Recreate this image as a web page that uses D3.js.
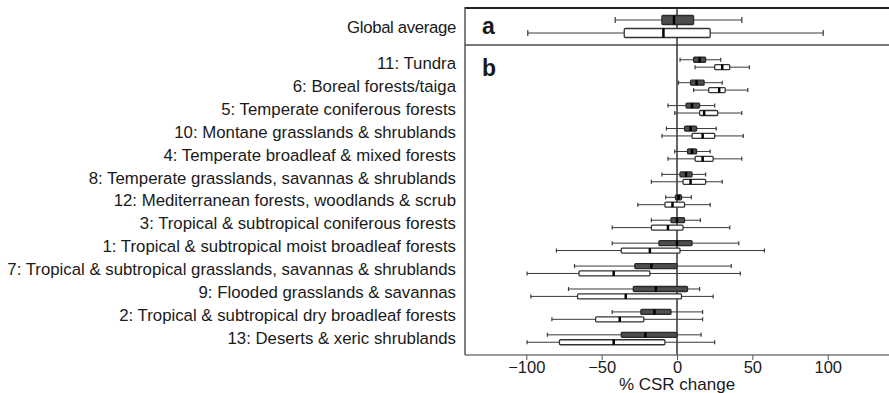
<!DOCTYPE html>
<html>
<head>
<meta charset="utf-8">
<script src="https://d3js.org/d3.v7.min.js"></script>
<style>
  body { margin: 0; background: #fff; overflow: hidden; }
  svg { display: block; }
  text { font-family: "Liberation Sans", Arial, sans-serif; fill: #1a1a1a; }
</style>
</head>
<body>
<script>
// biome names, top to bottom in panel b
var biomes = [
  "11: Tundra",
  "6: Boreal forests/taiga",
  "5: Temperate coniferous forests",
  "10: Montane grasslands & shrublands",
  "4: Temperate broadleaf & mixed forests",
  "8: Temperate grasslands, savannas & shrublands",
  "12: Mediterranean forests, woodlands & scrub",
  "3: Tropical & subtropical coniferous forests",
  "1: Tropical & subtropical moist broadleaf forests",
  "7: Tropical & subtropical grasslands, savannas & shrublands",
  "9: Flooded grasslands & savannas",
  "2: Tropical & subtropical dry broadleaf forests",
  "13: Deserts & xeric shrublands"
];

// [whisker low, q1, median, q3, whisker high] in % CSR change
var darkStats = [
  [2, 11, 15, 19, 29],
  [1, 9, 13, 18, 30],
  [-6, 6, 10, 15, 25],
  [-7, 5, 9, 13, 26],
  [-1.5, 7, 10, 13, 22],
  [-10, 2, 6, 10, 19],
  [-7.5, -1, 1, 3, 9.5],
  [-17, -4, 0, 5, 15.5],
  [-43, -12, 0, 10, 41],
  [-68, -28, -17, 0, 36],
  [-72, -29, -14, 7, 15],
  [-43, -24, -15, -4, 17],
  [-86, -37, -21, 0, 16]
];
var lightStats = [
  [12, 25, 30, 35, 48],
  [11, 21, 28, 32, 47],
  [-1.5, 15, 18, 27, 43],
  [-10, 10, 17, 25, 44],
  [-6, 12, 17, 24, 43],
  [-17, 4, 9, 19, 30],
  [-26, -8, -3, 5, 22],
  [-43, -17, -6, 4, 35],
  [-80, -37, -18, 2, 58],
  [-99.5, -65, -42, -18, 42],
  [-97, -66, -34, 3, 24],
  [-83, -54, -38, -22, 17],
  [-99.5, -78, -42, -8, 25]
];

var globalLabel = "Global average";
var globalDark = [-41, -10, -2, 11, 43];
var globalLight = [-99, -35, -9, 22, 97];

var xTicks = [-100, -50, 0, 50, 100];

var W = 889, H = 393;
// frame edges (don't call these top/left: window.top is read-only)
var frameL = 465, frameR = 889, frameT = 8, frameSplit = 45, frameB = 355;
var labelSize = "16.8px";

var svg = d3.select("body").append("svg")
  .attr("width", W)
  .attr("height", H);

var x = d3.scaleLinear().domain([-140, 140]).range([466, 888]);
var y = d3.scaleBand().domain(biomes).range([52, 350]);
var yA = d3.scaleBand().domain([globalLabel]).range([frameT, frameSplit]);

// frame
svg.append("line").attr("x1", frameL).attr("x2", frameR).attr("y1", frameT).attr("y2", frameT)
  .style("stroke", "#222").style("stroke-width", 2);
svg.append("line").attr("x1", frameL).attr("x2", frameR).attr("y1", frameSplit).attr("y2", frameSplit)
  .style("stroke", "#777").style("stroke-width", 2);
svg.append("line").attr("x1", frameL).attr("x2", frameL).attr("y1", frameT - 1).attr("y2", frameB)
  .style("stroke", "#555").style("stroke-width", 1.5);

// zero line
svg.append("line").attr("x1", x(0)).attr("x2", x(0)).attr("y1", frameT).attr("y2", frameB)
  .style("stroke", "#333").style("stroke-width", 1.5);

// x axis
var xAxis = svg.append("g")
  .attr("transform", "translate(0," + frameB + ")")
  .call(d3.axisBottom(x).tickValues(xTicks).tickSize(5).tickSizeOuter(0).tickPadding(1));
xAxis.select(".domain").attr("d", "M" + frameL + ",0H" + frameR).style("stroke", "#777").style("stroke-width", 1.5);
xAxis.selectAll(".tick line").style("stroke", "#555");
xAxis.selectAll(".tick text").style("font-size", "16.5px").style("fill", "#1a1a1a")
  .style("font-family", "'Liberation Sans', Arial, sans-serif");

svg.append("text")
  .attr("x", x(0))
  .attr("y", 390)
  .attr("text-anchor", "middle")
  .style("font-size", "17px")
  .text("% CSR change");

// panel letters
svg.append("text").attr("x", 482).attr("y", 34).style("font-size", "23px").style("font-weight", "bold").text("a");
svg.append("text").attr("x", 482).attr("y", 76).style("font-size", "23px").style("font-weight", "bold").text("b");

// row labels
svg.append("text")
  .attr("x", 456)
  .attr("y", yA(globalLabel) + yA.bandwidth() / 2 + 2)
  .attr("text-anchor", "end")
  .attr("dominant-baseline", "middle")
  .style("font-size", labelSize)
  .style("letter-spacing", "-0.35px")
  .text(globalLabel);

svg.selectAll(".biome")
  .data(biomes)
  .enter()
  .append("text")
  .attr("class", "biome")
  .attr("x", 456)
  .attr("y", function(d) { return y(d) + y.bandwidth() / 2 + 1; })
  .attr("text-anchor", "end")
  .attr("dominant-baseline", "middle")
  .style("font-size", labelSize)
  .text(function(d) { return d; });

function drawBox(s, cy, h, capH, dark) {
  var g = svg.append("g");
  g.append("line")
    .attr("x1", x(s[0])).attr("x2", x(s[4])).attr("y1", cy).attr("y2", cy)
    .style("stroke", "#3a3a3a").style("stroke-width", 1);
  [s[0], s[4]].forEach(function(v) {
    g.append("line")
      .attr("x1", x(v)).attr("x2", x(v)).attr("y1", cy - capH / 2).attr("y2", cy + capH / 2)
      .style("stroke", "#3a3a3a").style("stroke-width", 1.2);
  });
  g.append("rect")
    .attr("x", x(s[1])).attr("y", cy - h / 2)
    .attr("width", x(s[3]) - x(s[1])).attr("height", h)
    .attr("rx", 1)
    .style("fill", dark ? "#4d4d4d" : "#fff")
    .style("stroke", dark ? "#2a2a2a" : "#333")
    .style("stroke-width", 1.3);
  g.append("line")
    .attr("x1", x(s[2])).attr("x2", x(s[2])).attr("y1", cy - h / 2).attr("y2", cy + h / 2)
    .style("stroke", "#000").style("stroke-width", 2.5);
}

// panel a
var ca = yA(globalLabel) + yA.bandwidth() / 2;
drawBox(globalDark, ca - 6.5, 9, 6, true);
drawBox(globalLight, ca + 6.5, 9, 6, false);

// panel b
biomes.forEach(function(b, i) {
  var c = y(b) + y.bandwidth() / 2;
  drawBox(darkStats[i], c - 3.7, 5, 4, true);
  drawBox(lightStats[i], c + 3.7, 5, 4, false);
});
</script>
</body>
</html>
